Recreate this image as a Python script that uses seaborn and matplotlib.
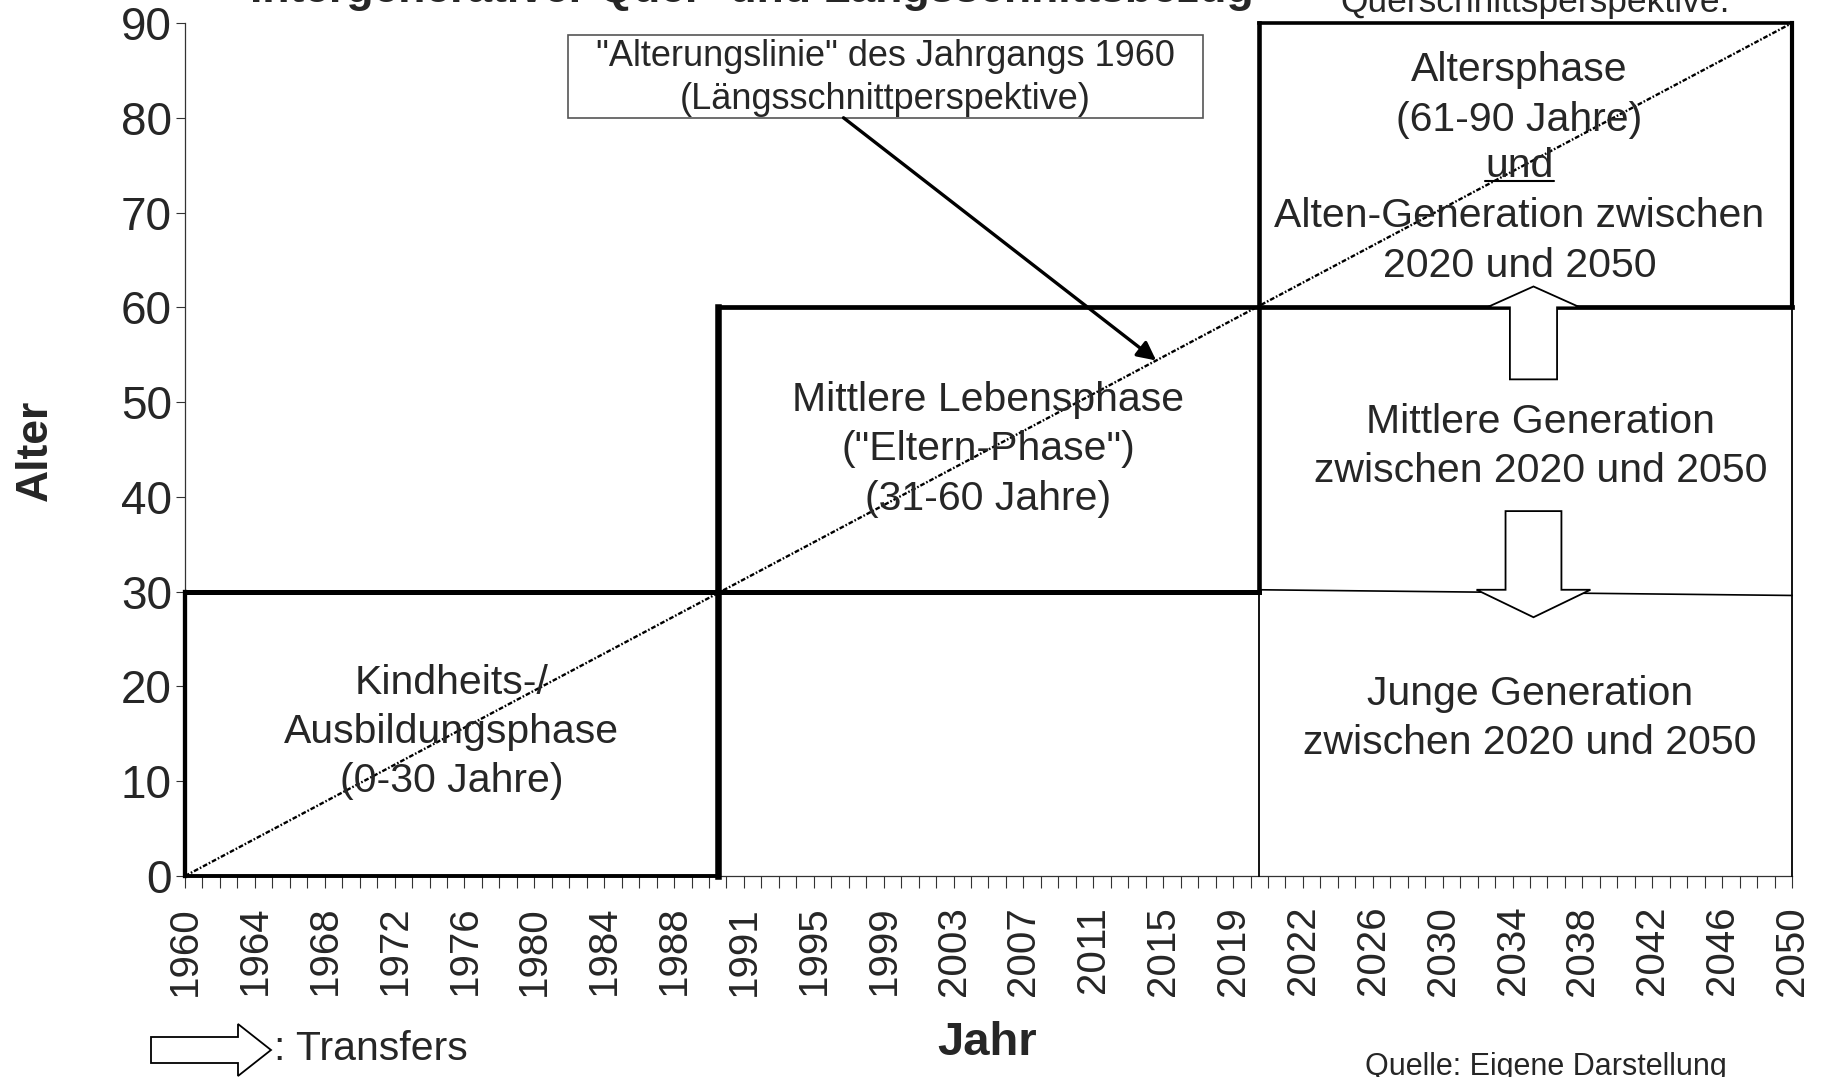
import numpy as np
import pandas as pd
import matplotlib
matplotlib.use("Agg")
import matplotlib.pyplot as plt
import seaborn as sns
from matplotlib.patches import Polygon, Rectangle
from matplotlib.lines import Line2D

sns.set_style("ticks")
plt.rcParams['font.family'] = ['Liberation Sans', 'DejaVu Sans']

# ---------------- data ----------------
# category axis of the original (1990 and 2020 appear twice)
years = (list(range(1960, 1991)) + [1990] + list(range(1991, 2021)) + [2020]
         + list(range(2021, 2051)))
label_step = 4
ages_ticks = list(range(0, 91, 10))

# life phases (Längsschnitt) : years and ages
phase_names = ["Kindheits-/\nAusbildungsphase\n(0-30 Jahre)",
               "Mittlere Lebensphase\n(\"Eltern-Phase\")\n(31-60 Jahre)"]
phase_year_from = [1960, 1990, 2020]
phase_year_to = [1990, 2020, 2050]
phase_age_from = [0, 30, 60]
phase_age_to = [30, 60, 90]

# generations (Querschnitt) 2020-2050
gen_lower_border_age = [30.2, 29.6]      # thin border between junge / mittlere
gen_names = ["Mittlere Generation\nzwischen 2020 und 2050",
             "Junge Generation\nzwischen 2020 und 2050"]

# ageing line of cohort 1960
aging_years = [1960, 2050]
aging_ages = [0, 90]


def pos(year):
    """position of a year on the category axis (duplicated years -> between)."""
    idx = [i for i, y in enumerate(years) if y == year]
    return float(np.mean(idx))


# ---------------- figure ----------------
W, H = 1821, 1077
fig = plt.figure(figsize=(W / 100, H / 100), dpi=100)
ax = fig.add_axes([185 / W, 1 - 876 / H, (1792 - 185) / W, (876 - 23) / H])
ax.set_xlim(0, len(years) - 1)
ax.set_ylim(0, 90)

# ageing line
sns.lineplot(x=[pos(y) for y in aging_years], y=aging_ages, ax=ax,
             color="black", linewidth=1.7, zorder=4)
ax.lines[-1].set_dashes((2.0, 0.8, 0.7, 0.8))

p60, p90, p20, p50 = pos(1960), pos(1990), pos(2020), pos(2050)
thick = "black"
segs = [
    # x0, x1, y0, y1, lw
    (p60, p60, phase_age_from[0], phase_age_to[0], 3.1),
    (p60, p90, phase_age_from[0], phase_age_from[0], 2.8),
    (p60, p20, phase_age_to[0], phase_age_to[0], 3.6),
    (p90, p90, phase_age_from[0], phase_age_to[1], 4.7),
    (p90, p50, phase_age_to[1], phase_age_to[1], 3.4),
    (p20, p20, phase_age_from[1], phase_age_to[2], 3.3),
    (p20, p50, phase_age_to[2], phase_age_to[2], 2.6),
    (p50, p50, phase_age_from[2], phase_age_to[2], 3.0),
    # thin lines of the cross-section
    (p20, p20, 0, phase_age_from[1], 1.3),
    (p50, p50, 0, phase_age_from[2], 1.3),
    (p20, p50, gen_lower_border_age[0], gen_lower_border_age[1], 1.2),
]
for x0, x1, y0, y1, lw in segs:
    ax.plot([x0, x1], [y0, y1], color=thick, lw=lw, solid_capstyle="projecting",
            clip_on=False, zorder=3)

# texts in boxes
fs = 29.5
ls = 1.37
ax.text((p60 + p90) / 2, 15.2, phase_names[0], ha="center", va="center",
        fontsize=fs, linespacing=ls, zorder=5)
ax.text((p90 + p20) / 2, 45.0, phase_names[1], ha="center", va="center",
        fontsize=fs, linespacing=ls, zorder=5)
xc = 76.4
ax.text(xc, 82.4, "Altersphase\n(61-90 Jahre)", ha="center", va="center",
        fontsize=fs, linespacing=ls, zorder=5)
t_und = ax.text(xc, 74.9, "und", ha="center", va="center", fontsize=fs, zorder=5)
ax.text(xc, 67.0, "Alten-Generation zwischen\n2020 und 2050", ha="center",
        va="center", fontsize=fs, linespacing=ls, zorder=5)
ax.text(77.6, 45.3, gen_names[0], ha="center", va="center", fontsize=fs,
        linespacing=ls, zorder=5)
ax.text(77.0, 16.6, gen_names[1], ha="center", va="center", fontsize=fs,
        linespacing=ls, zorder=5)

# annotation box with arrow
ax.add_patch(Rectangle((21.9, 80.0), 36.4, 8.7, facecolor="white",
                       edgecolor="#555555", lw=1.2, zorder=6, clip_on=False))
ax.text(21.9 + 36.4 / 2, 84.2,
        "\"Alterungslinie\" des Jahrgangs 1960\n(Längsschnittperspektive)",
        ha="center", va="center", fontsize=26, linespacing=1.32, zorder=7)
tip_x = 55.6
tip_y = float(np.interp(tip_x, [pos(y) for y in aging_years], aging_ages))
ax.annotate("", xy=(tip_x, tip_y), xytext=(37.7, 80.0),
            arrowprops=dict(arrowstyle="-|>", lw=2.4, color="black",
                            mutation_scale=28, shrinkA=0, shrinkB=0),
            zorder=6)

# transfer block arrows
c = 77.2
up = [(c - 1.35, 52.4), (c - 1.35, 60), (c - 2.66, 60), (c, 62.2),
      (c + 2.66, 60), (c + 1.35, 60), (c + 1.35, 52.4)]
down = [(c - 1.6, 38.5), (c - 1.6, 30.2), (c - 3.26, 30.2), (c, 27.3),
        (c + 3.26, 30.2), (c + 1.6, 30.2), (c + 1.6, 38.5)]
for pts in (up, down):
    ax.add_patch(Polygon(pts, closed=True, facecolor="white", edgecolor="black",
                         lw=1.3, zorder=8))

# axes styling
ax.set_xticks(range(0, len(years), label_step))
ax.set_xticklabels([str(years[i]) for i in range(0, len(years), label_step)],
                   rotation=90, fontsize=29)
ax.set_xticks(range(len(years)), minor=True)
ax.set_yticks(ages_ticks)
ax.set_yticklabels([str(a) for a in ages_ticks], fontsize=33)
ax.tick_params(axis="x", which="both", length=8.5, width=0.8, color="#333333",
               pad=13)
ax.tick_params(axis="y", length=6.5, width=0.8, color="#333333", pad=3)
for s in ("top", "right"):
    ax.spines[s].set_visible(False)
for s in ("left", "bottom"):
    ax.spines[s].set_color("#333333")
    ax.spines[s].set_linewidth(0.9)
ax.set_xlabel("")
ax.set_ylabel("")

fig.text(987 / W, 1 - 1043 / H, "Jahr", ha="center", va="center",
         fontsize=34, fontweight="bold")
fig.text(35 / W, 1 - 450 / H, "Alter", ha="center", va="center", rotation=90,
         fontsize=32, fontweight="bold")
fig.text(752 / W, 1 - 2 / H, "Intergenerativer Quer- und Längsschnittsbezug",
         ha="center", va="baseline", fontsize=32, fontweight="bold")
fig.text(1535 / W, 1 - 12 / H, "Querschnittsperspektive:", ha="center",
         va="baseline", fontsize=25.5)
fig.text(1546 / W, 1 - 1075 / H, "Quelle: Eigene Darstellung", ha="center",
         va="baseline", fontsize=22)
fig.text(274 / W, 1 - 1049 / H, ": Transfers", ha="left", va="center",
         fontsize=29.5)

# legend arrow (figure pixel coords)
leg = [(151, 1037), (238, 1037), (238, 1024), (271, 1050), (238, 1076),
       (238, 1063), (151, 1063)]
fig.add_artist(Polygon([(x / W, 1 - y / H) for x, y in leg], closed=True,
                       facecolor="white", edgecolor="black", lw=1.3,
                       transform=fig.transFigure))

# underline "und"
fig.canvas.draw()
bb = t_und.get_window_extent(fig.canvas.get_renderer())
uy = bb.y0 + 0.12 * bb.height
fig.add_artist(Line2D([bb.x0 / W, bb.x1 / W], [uy / H, uy / H], color="black",
                      lw=1.5, transform=fig.transFigure))

fig.savefig("out.png", dpi=100)
